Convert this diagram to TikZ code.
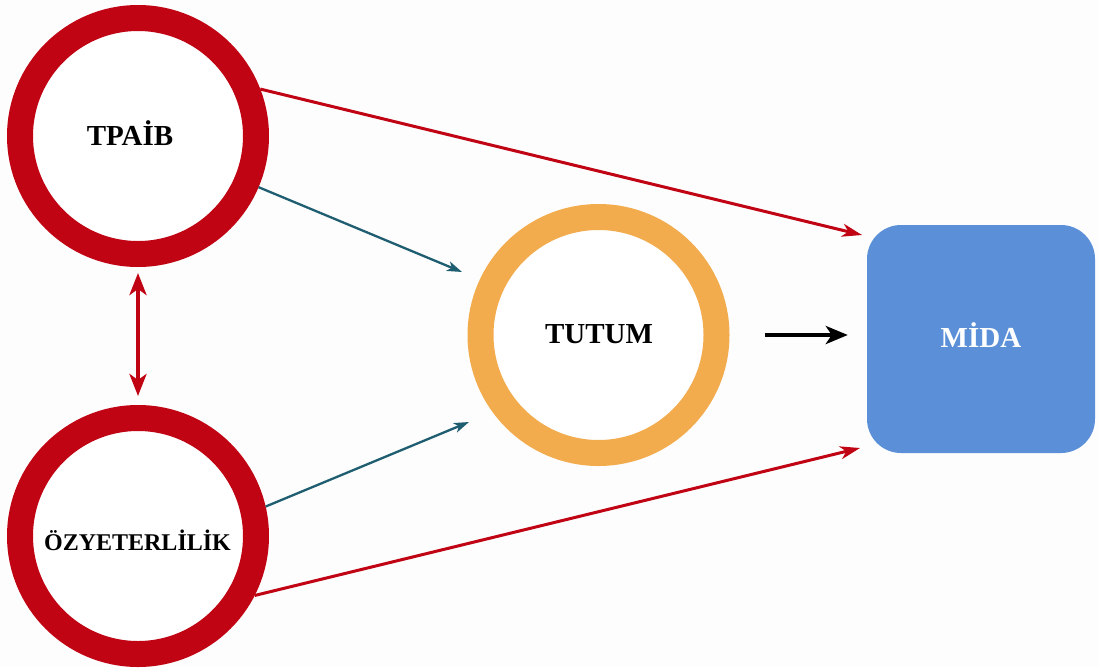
\documentclass[tikz,border=0pt]{standalone}
\usepackage{fontspec}
\setmainfont{Liberation Serif}
\usetikzlibrary{arrows.meta}
\definecolor{ringred}{RGB}{192,4,20}
\definecolor{ringorange}{RGB}{243,172,77}
\definecolor{boxblue}{RGB}{91,144,216}
\definecolor{tealline}{RGB}{31,93,112}
\definecolor{paper}{RGB}{253,253,253}
\tikzset{
  ring/.style={circle, draw=#1, line width=26pt, minimum size=236pt, inner sep=0pt, fill=white},
  lbl/.style={anchor=base, font=\bfseries\fontsize{29}{31}\selectfont, text=black, inner sep=0pt},
  redarrow/.style={draw=ringred, line width=3pt, -{Stealth[length=20pt,width=13pt,inset=6pt]}},
  tealarrow/.style={draw=tealline, line width=2.3pt, -{Stealth[length=15pt,width=10pt,inset=4pt]}},
  blackarrow/.style={draw=black, line width=4.5pt, -{Stealth[length=22pt,width=18pt,inset=6pt]}},
  bothways/.style={draw=ringred, line width=4.5pt, {Stealth[length=22pt,width=17pt,inset=6pt]}-{Stealth[length=22pt,width=17pt,inset=6pt]}}
}
\begin{document}
\begin{tikzpicture}[x=1pt, y=-1pt]
  \fill[paper] (0,0) rectangle (1098,667);
  \useasboundingbox (0,0) rectangle (1098,667);

  % constructs
  \node[ring=ringred] (tpaib) at (138,136) {};
  \node[ring=ringred] (oz) at (138,536) {};
  \node[ring=ringorange] (tutum) at (598.5,335) {};
  \node[fill=boxblue, rounded corners=34pt, minimum width=228pt, minimum height=228pt, inner sep=0pt] (mida) at (981,339) {};

  % labels
  \node[lbl] (tpaibtxt) at (130,145) {TPAİB};
  \node[lbl, font=\bfseries\fontsize{24}{26}\selectfont] (oztxt) at (137.5,550) {ÖZYETERLİLİK};
  \node[lbl] (tutumtxt) at (599,343) {TUTUM};
  \node[lbl, text=white] (midatxt) at (981,347) {MİDA};

  % arrow end points in front of the outcome box and the attitude ring
  \coordinate (m1) at (862,235);
  \coordinate (m2) at (860,448);
  \coordinate (t1) at (462,272);
  \coordinate (t2) at (469,422);

  % paths
  \draw[redarrow] (tpaib.21) -- (m1);
  \draw[redarrow] (oz.-27) -- (m2);
  \draw[tealarrow] (tpaib.-23) -- (t1);
  \draw[tealarrow] (oz.13) -- (t2);
  \draw[blackarrow, shorten <=35pt, shorten >=19pt] (tutum.east) -- (tutum.east -| mida.west);
  \draw[bothways, shorten <=6pt, shorten >=9pt] (tpaib.south) -- (oz.north);
\end{tikzpicture}
\end{document}
